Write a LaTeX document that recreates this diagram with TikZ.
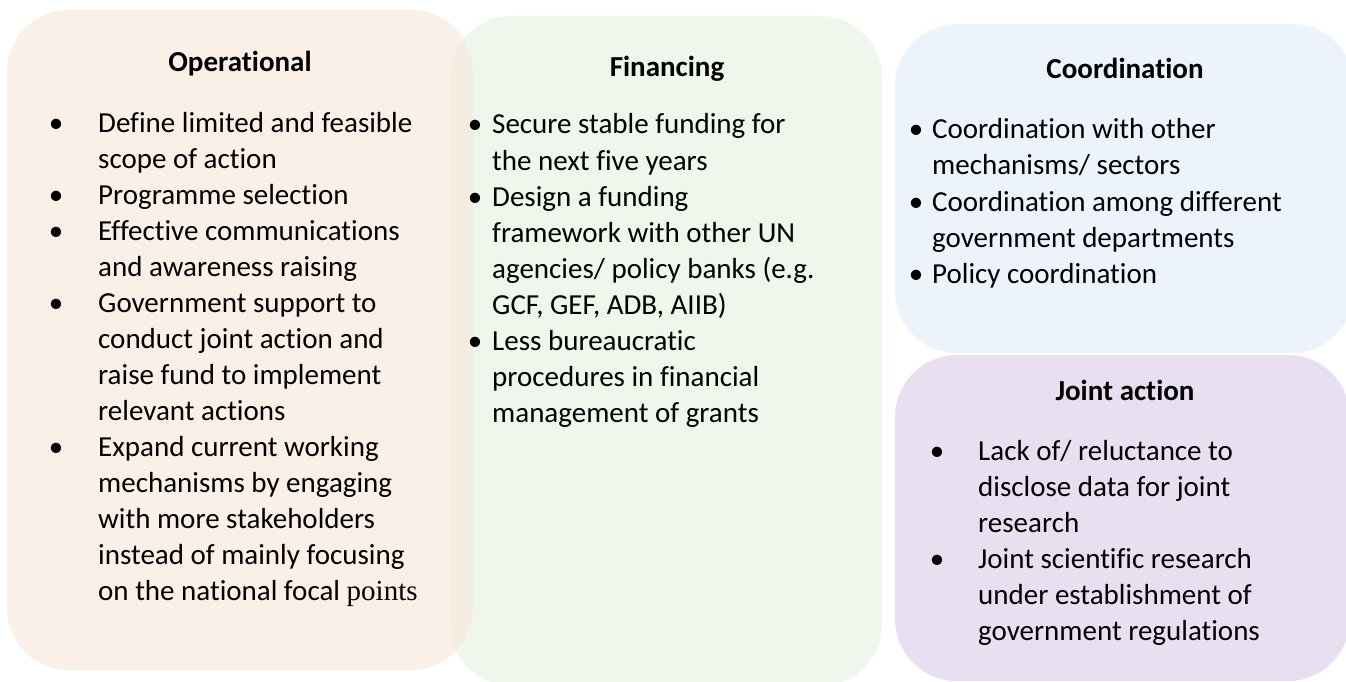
\documentclass[tikz,border=0pt]{standalone}
\usepackage{fontspec}
\setmainfont[Ligatures={NoCommon}]{Carlito}
\newfontfamily\ptsfont{Liberation Serif}
\definecolor{peachbg}{RGB}{251,240,232}
\definecolor{greenbg}{RGB}{239,246,236}
\definecolor{overlapbg}{RGB}{244,237,226}
\definecolor{bluebg}{RGB}{236,243,251}
\definecolor{purplebg}{RGB}{232,224,240}
\begin{document}
\begin{tikzpicture}[x=1pt,y=-1pt,
  panel/.style={rounded corners=62pt},
  head/.style={font=\fontsize{29}{36}\selectfont\bfseries, anchor=base, inner sep=0pt},
  txt/.style={font=\fontsize{29}{36}\selectfont, anchor=base west, inner sep=0pt},
  bul/.style={font=\fontsize{29}{36}\selectfont, anchor=base, inner sep=0pt}]
\useasboundingbox (0,0) rectangle (1346,682);
\fill[white] (0,0) rectangle (1346,682);
% panels
\fill[greenbg,panel] (450,16) rectangle (882,686);
\fill[peachbg,panel] (7,10) rectangle (473,670);
\begin{scope}
  \clip[panel] (7,10) rectangle (473,670);
  \fill[overlapbg,panel] (450,16) rectangle (882,686);
\end{scope}
\fill[bluebg,panel] (895,24) rectangle (1354,353);
\fill[purplebg,panel] (895,355) rectangle (1350,681);
% Operational
\node[head] (ophead) at (240,72) {Operational};
\foreach \t [count=\i from 0] in {Define limited and feasible, scope of action, Programme selection, Effective communications, and awareness raising, Government support to, conduct joint action and, raise fund to implement, relevant actions, Expand current working, mechanisms by engaging, with more stakeholders, instead of mainly focusing, {on the national focal {\ptsfont points}}}
  \node[txt] (op\i) at (98,{132+36*\i}) {\t};
\foreach \i in {0,2,3,5,9}
  \node[bul] (opb\i) at (56,{132+36*\i}) {•};
% Financing
\node[head] (fihead) at (667,77) {Financing};
\foreach \t [count=\i from 0] in {Secure stable funding for, the next five years, Design a funding, framework with other UN, agencies/ policy banks (e.g., {GCF, GEF, ADB, AIIB)}, Less bureaucratic, procedures in financial, management of grants}
  \node[txt] (fi\i) at (492,{134+36*\i}) {\t};
\foreach \i in {0,2,6}
  \node[bul] (fib\i) at (475,{134+36*\i}) {•};
% Coordination
\node[head] (cohead) at (1125,79) {Coordination};
\foreach \t [count=\i from 0] in {Coordination with other, mechanisms/ sectors, Coordination among different, government departments, Policy coordination}
  \node[txt] (co\i) at (932,{139+36*\i}) {\t};
\foreach \i in {0,2,4}
  \node[bul] (cob\i) at (916,{139+36*\i}) {•};
% Joint action
\node[head] (jahead) at (1125,400) {Joint action};
\foreach \t [count=\i from 0] in {Lack of/ reluctance to, disclose data for joint, research, Joint scientific research, under establishment of, government regulations}
  \node[txt] (ja\i) at (978,{460+36*\i}) {\t};
\foreach \i in {0,3}
  \node[bul] (jab\i) at (937,{460+36*\i}) {•};
\end{tikzpicture}
\end{document}
